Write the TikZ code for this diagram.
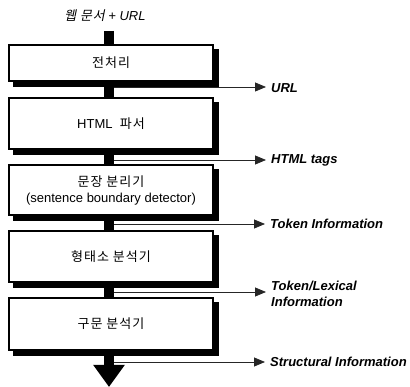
\documentclass[tikz,border=0pt]{standalone}
\usepackage{fontspec}
\setmainfont{Liberation Sans}
\newfontfamily\kr[LetterSpace=8]{Noto Sans CJK KR}
\newfontfamily\krit[FakeSlant=0.2,LetterSpace=6]{Noto Sans CJK KR}
\usetikzlibrary{arrows.meta,shadows,calc}
\begin{document}
\begin{tikzpicture}[x=1pt,y=-1pt,
  stage/.style={draw=black,line width=1.1pt,fill=white,minimum width=204pt,
    inner sep=0pt,align=center,font=\fontsize{13}{16}\selectfont,
    copy shadow={shadow xshift=5pt,shadow yshift=-5pt,fill=black,draw=black}},
  outlab/.style={anchor=west,inner sep=0pt,align=left,
    font=\fontsize{13}{16}\selectfont\bfseries\itshape},
  side/.style={draw=black!85,line width=0.8pt,
    -{Triangle[length=11pt,width=9pt]},shorten >=5pt}]
\useasboundingbox (0,0) rectangle (410,387);
% main flow bar
\coordinate (top) at (109,31);
\coordinate (bot) at (109,387);
\draw[line width=10pt,-{Triangle[length=22pt,width=30pt]}] (top) -- (bot);
% stages
\node[stage,minimum height=36pt] (s1) at (111,63) {{\kr 전처리}};
\node[stage,minimum height=51pt] (s2) at (111,123.5) {HTML\ \ {\kr 파서}};
\node[stage,minimum height=50pt] (s3) at (111,190) {{\kr 문장 분리기}\\(sentence boundary detector)};
\node[stage,minimum height=51pt] (s4) at (111,256.5) {{\kr 형태소 분석기}};
\node[stage,minimum height=52pt] (s5) at (111,324) {{\kr 구문 분석기}};
% input label
\node[inner sep=0pt,font=\fontsize{13}{15}\selectfont\itshape] (in) at (105,16) {{\krit 웹 문서} + URL};
% outputs
\node[outlab] (o1) at (271,88) {URL};
\node[outlab] (o2) at (271,160) {HTML tags};
\node[outlab] (o3) at (270,224) {Token Information};
\node[outlab] (o4) at (271,294) {Token/Lexical\\Information};
\node[outlab] (o5) at (270,362) {Structural Information};
\coordinate (b1) at (114,87);
\coordinate (b2) at (114,160);
\coordinate (b3) at (114,224);
\coordinate (b4) at (114,292);
\coordinate (b5) at (114,362);
\draw[side] (b1) -- (b1 -| o1.west);
\draw[side] (b2) -- (b2 -| o2.west);
\draw[side] (b3) -- (b3 -| o3.west);
\draw[side] (b4) -- (b4 -| o4.west);
\draw[side] (b5) -- (b5 -| o5.west);
\end{tikzpicture}
\end{document}
